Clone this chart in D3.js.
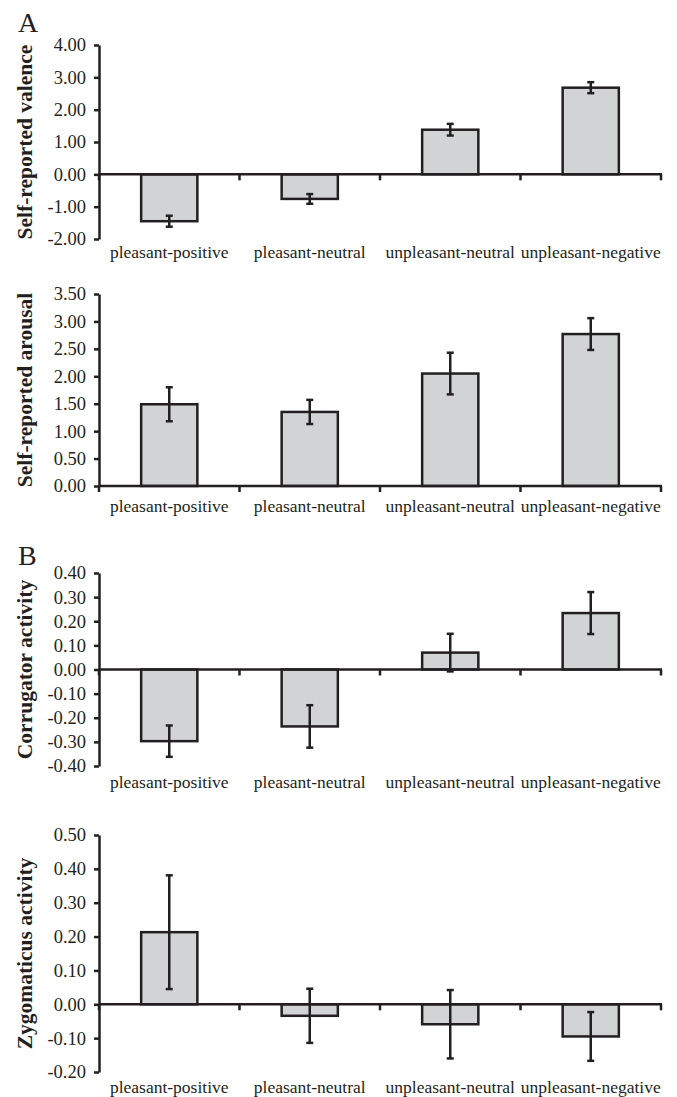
<!DOCTYPE html>
<html>
<head>
<meta charset="utf-8">
<script src="https://cdn.jsdelivr.net/npm/d3@7"></script>
<style>
  body { margin: 0; background: #fff; }
  svg text { font-family: "Liberation Serif", "Times New Roman", serif; fill: #231f20; }
</style>
</head>
<body>
<div id="chart"></div>
<script>
// data
const categories = ["pleasant-positive", "pleasant-neutral", "unpleasant-neutral", "unpleasant-negative"];

const valenceMeans = [-1.45, -0.76, 1.38, 2.68];
const valenceErrors = [0.17, 0.15, 0.18, 0.17];
const valenceTicks = [-2, -1, 0, 1, 2, 3, 4];

const arousalMeans = [1.49, 1.35, 2.05, 2.77];
const arousalErrors = [0.31, 0.22, 0.38, 0.29];
const arousalTicks = [0, 0.5, 1, 1.5, 2, 2.5, 3, 3.5];

const corrugatorMeans = [-0.297, -0.236, 0.070, 0.234];
const corrugatorErrors = [0.065, 0.088, 0.078, 0.087];
const corrugatorTicks = [-0.4, -0.3, -0.2, -0.1, 0, 0.1, 0.2, 0.3, 0.4];

const zygomaticusMeans = [0.213, -0.034, -0.059, -0.095];
const zygomaticusErrors = [0.168, 0.080, 0.101, 0.072];
const zygomaticusTicks = [-0.2, -0.1, 0, 0.1, 0.2, 0.3, 0.4, 0.5];

const panels = [
    {title: "Self-reported valence", means: valenceMeans, errors: valenceErrors, ticks: valenceTicks, letter: "A"},
    {title: "Self-reported arousal", means: arousalMeans, errors: arousalErrors, ticks: arousalTicks, letter: null},
    {title: "Corrugator activity", means: corrugatorMeans, errors: corrugatorErrors, ticks: corrugatorTicks, letter: "B"},
    {title: "Zygomaticus activity", means: zygomaticusMeans, errors: zygomaticusErrors, ticks: zygomaticusTicks, letter: null}
];

// layout (pixel extents of each panel's y axis, label offsets)
const layout = [
    {top: 45, bottom: 239, labelDy: 19, letterY: 32},
    {top: 294, bottom: 486, labelDy: 26, letterY: null},
    {top: 573, bottom: 766, labelDy: 22, letterY: 565},
    {top: 835, bottom: 1072, labelDy: 21, letterY: null}
];

const width = 677, height = 1097;
const axisLeft = 99, axisRight = 661;
const ink = "#231f20";
const barFill = "#d1d3d4";
const lineW = 2.5;
const capHalf = 3.5;

const svg = d3.select("#chart").append("svg")
    .attr("width", width)
    .attr("height", height);

let xScale = d3.scaleBand()
    .domain(categories)
    .range([axisLeft, axisRight])
    .paddingInner(0.6)
    .paddingOuter(0.3);

panels.forEach((p, i) => {
    const lay = layout[i];
    const g = svg.append("g").attr("class", "panel" + i);

    let yScale = d3.scaleLinear()
        .domain(d3.extent(p.ticks))
        .range([lay.bottom, lay.top]);
    const y0 = yScale(0);

    // bars
    g.selectAll("rect.bar")
        .data(p.means.map((m, k) => ({cat: categories[k], mean: m, err: p.errors[k]})))
        .enter().append("rect")
        .attr("class", "bar")
        .attr("x", d => xScale(d.cat))
        .attr("y", d => Math.min(yScale(d.mean), y0))
        .attr("width", xScale.bandwidth())
        .attr("height", d => Math.abs(yScale(d.mean) - y0))
        .style("fill", barFill)
        .style("stroke", ink)
        .style("stroke-width", lineW);

    // x axis along zero, ticks at band boundaries
    g.append("line")
        .attr("x1", axisLeft).attr("x2", axisRight + 1)
        .attr("y1", y0).attr("y2", y0)
        .style("stroke", ink).style("stroke-width", lineW);
    g.selectAll("line.xtick")
        .data(d3.range(0, categories.length + 1))
        .enter().append("line")
        .attr("class", "xtick")
        .attr("x1", k => axisLeft + k * xScale.step())
        .attr("x2", k => axisLeft + k * xScale.step())
        .attr("y1", y0).attr("y2", y0 + 6)
        .style("stroke", ink).style("stroke-width", lineW);

    // error bars
    const eb = g.selectAll("g.err")
        .data(p.means.map((m, k) => ({cat: categories[k], mean: m, err: p.errors[k]})))
        .enter().append("g")
        .attr("class", "err")
        .attr("transform", d => `translate(${xScale(d.cat) + xScale.bandwidth() / 2},0)`);
    eb.append("line")
        .attr("x1", 0).attr("x2", 0)
        .attr("y1", d => yScale(d.mean + d.err))
        .attr("y2", d => yScale(d.mean - d.err));
    eb.append("line")
        .attr("x1", -capHalf).attr("x2", capHalf)
        .attr("y1", d => yScale(d.mean + d.err))
        .attr("y2", d => yScale(d.mean + d.err));
    eb.append("line")
        .attr("x1", -capHalf).attr("x2", capHalf)
        .attr("y1", d => yScale(d.mean - d.err))
        .attr("y2", d => yScale(d.mean - d.err));
    eb.selectAll("line").style("stroke", ink).style("stroke-width", lineW);

    // y axis
    let yAxis = d3.axisLeft(yScale)
        .tickValues(p.ticks)
        .tickFormat(d => d.toFixed(2))
        .tickSize(5)
        .tickPadding(8)
        .tickSizeOuter(0);
    const ya = g.append("g")
        .attr("transform", `translate(${axisLeft},0)`)
        .call(yAxis);
    ya.select(".domain").style("stroke", ink).style("stroke-width", lineW);
    ya.selectAll(".tick line").style("stroke", ink).style("stroke-width", lineW);
    ya.selectAll(".tick text")
        .style("font-size", "18.5px")
        .style("font-family", '"Liberation Serif", serif')
        .style("fill", ink);

    // category labels under the panel
    g.selectAll("text.cat")
        .data(categories)
        .enter().append("text")
        .attr("class", "cat")
        .attr("x", d => xScale(d) + xScale.bandwidth() / 2)
        .attr("y", lay.bottom + lay.labelDy)
        .attr("text-anchor", "middle")
        .style("font-size", "17.5px")
        .text(d => d);

    // y title
    const ty = (lay.top + lay.bottom) / 2;
    g.append("text")
        .attr("transform", `translate(32,${ty}) rotate(-90)`)
        .attr("text-anchor", "middle")
        .style("font-size", "21.5px")
        .style("font-weight", "bold")
        .text(p.title);

    // panel letter
    if (p.letter) {
        g.append("text")
            .attr("x", 18)
            .attr("y", lay.letterY)
            .style("font-size", "28px")
            .text(p.letter);
    }
});
</script>
</body>
</html>
